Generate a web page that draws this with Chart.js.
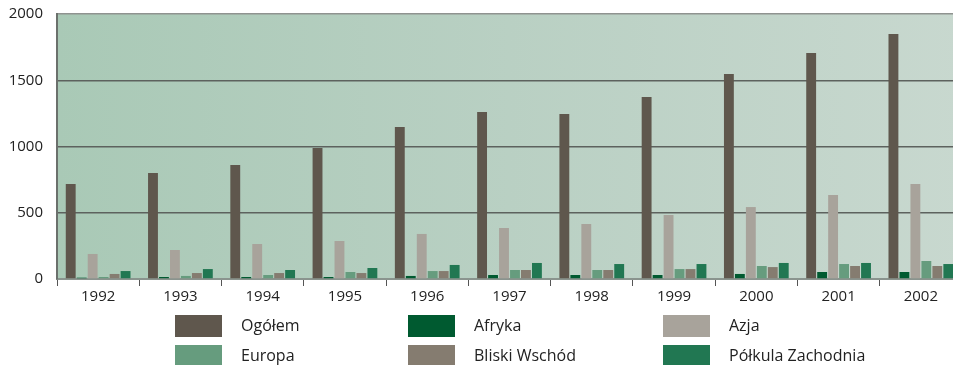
<!DOCTYPE html>
<html>
<head>
<meta charset="utf-8">
<script src="https://cdn.jsdelivr.net/npm/chart.js@4"></script>
<style>
  html, body { margin: 0; padding: 0; background: #fff; overflow: hidden; }
  #wrap { width: 962px; height: 365px; position: relative; }
</style>
</head>
<body>
<div id="wrap"><canvas id="grafico"></canvas></div>
<script>
const lata = ["1992", "1993", "1994", "1995", "1996", "1997", "1998", "1999", "2000", "2001", "2002"];

const ogolem = [717, 800, 860, 989, 1147, 1260, 1245, 1374, 1547, 1706, 1849];
const afryka = [10, 15, 15, 15, 23, 30, 30, 30, 38, 53, 53];
const azja = [189, 219, 264, 287, 340, 385, 415, 483, 543, 634, 717];
const europa = [15, 23, 30, 53, 60, 68, 68, 75, 98, 113, 136];
const bliskiWschod = [38, 45, 45, 45, 60, 68, 68, 75, 90, 98, 98];
const polkulaZachodnia = [60, 75, 68, 83, 106, 121, 113, 113, 121, 121, 113];

const nazwy = ["Ogółem", "Afryka", "Azja", "Europa", "Bliski Wschód", "Półkula Zachodnia"];
const kolory = ["#5f574d", "#005a30", "#a8a39b", "#669c7e", "#857c70", "#217752"];
const serie = [ogolem, afryka, azja, europa, bliskiWschod, polkulaZachodnia];

const FONT = "'Open Sans', sans-serif";

// tło obszaru wykresu (gradient zielony)
const tlo = {
  id: "tlo",
  beforeDraw(chart) {
    const { ctx, chartArea: a } = chart;
    const g = ctx.createLinearGradient(a.left, 0, a.right, 0);
    g.addColorStop(0, "#a9c9b6");
    g.addColorStop(0.5, "#b9d0c3");
    g.addColorStop(1, "#c8d8cf");
    ctx.save();
    ctx.fillStyle = g;
    ctx.fillRect(a.left, a.top, a.right - a.left, a.bottom - a.top);
    ctx.restore();
  }
};

// legenda w trzech kolumnach
const legenda = {
  id: "legenda",
  afterDraw(chart) {
    const { ctx } = chart;
    const kolX = [175, 408, 663];
    const wierszY = [315, 345];
    ctx.save();
    ctx.font = "16px " + FONT;
    ctx.textBaseline = "middle";
    chart.data.datasets.forEach((ds, i) => {
      const x = kolX[i % 3];
      const y = wierszY[Math.floor(i / 3)];
      ctx.fillStyle = ds.backgroundColor;
      ctx.fillRect(x, y, 47, 22);
      ctx.fillStyle = "#222";
      ctx.fillText(ds.label, x + 66, y + 11);
    });
    ctx.restore();
  }
};

new Chart(document.getElementById("grafico").getContext("2d"), {
  type: "bar",
  data: {
    labels: lata,
    datasets: serie.map((dane, i) => ({
      label: nazwy[i],
      data: dane,
      backgroundColor: kolory[i],
      borderWidth: 0,
      barPercentage: 0.9,
      categoryPercentage: 0.8
    }))
  },
  options: {
    responsive: true,
    maintainAspectRatio: false,
    animation: false,
    layout: { padding: { top: 14, left: 0, right: 0, bottom: 0 } },
    plugins: {
      legend: { display: false },
      tooltip: { enabled: false }
    },
    scales: {
      x: {
        grid: {
          offset: true,
          drawOnChartArea: false,
          drawTicks: true,
          tickLength: 7,
          tickColor: "#555"
        },
        border: { color: "#8a948e", width: 2 },
        ticks: { color: "#222", font: { family: FONT, size: 15 }, padding: 2 },
        afterFit(s) { s.height = 86; }
      },
      y: {
        min: 0,
        max: 2000,
        ticks: {
          stepSize: 500,
          color: "#222",
          font: { family: FONT, size: 15 },
          padding: 14,
          callback: v => String(v)
        },
        grid: {
          drawTicks: false,
          lineWidth: 1.5,
          color: ctx => ctx.tick.value === 2000 ? "#8f9390" : (ctx.tick.value === 0 ? "rgba(0,0,0,0)" : "#5d625e")
        },
        border: { color: "#6b706c", width: 2 },
        afterFit(s) { s.width = 57; s.paddingTop = 0; s.paddingBottom = 0; }
      }
    }
  },
  plugins: [tlo, legenda]
});
</script>
</body>
</html>
